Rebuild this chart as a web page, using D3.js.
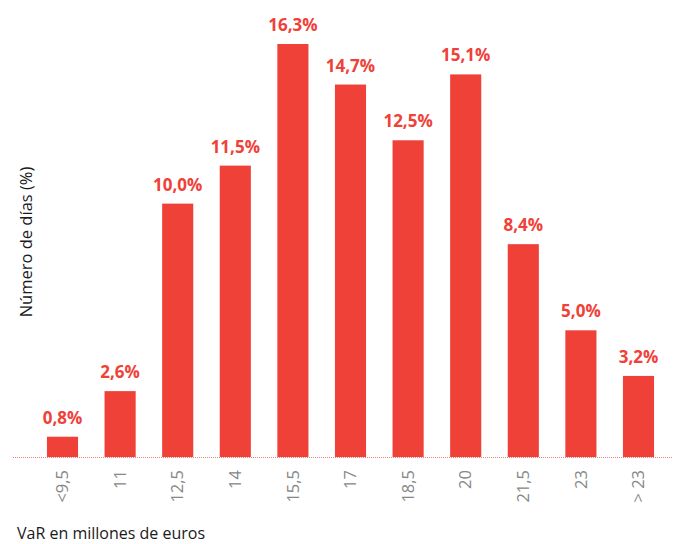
<!DOCTYPE html>
<html>
<head>
<meta charset="utf-8">
<script src="https://cdn.jsdelivr.net/npm/d3@7"></script>
<style>
  html, body { margin: 0; padding: 0; background: #fff; }
  svg { display: block; font-family: "Open Sans", "Noto Sans", sans-serif; }
</style>
</head>
<body>
<svg id="chart" width="680" height="544"></svg>
<script>
// VaR distribution: share of days by VaR bucket (millions of euros)
const categories = ["<9,5", "11", "12,5", "14", "15,5", "17", "18,5", "20", "21,5", "23", "> 23"];
const values = [0.8, 2.6, 10.0, 11.5, 16.3, 14.7, 12.5, 15.1, 8.4, 5.0, 3.2];
const valueLabels = ["0,8%", "2,6%", "10,0%", "11,5%", "16,3%", "14,7%", "12,5%", "15,1%", "8,4%", "5,0%", "3,2%"];
const yTitle = "Número de días (%)";
const xTitle = "VaR en millones de euros";

const red = "#ef4138";
const svg = d3.select("#chart");

const x = d3.scaleBand()
  .domain(categories)
  .range([33.7, 667.3])
  .paddingInner(0.46)
  .paddingOuter(0.23);

const baseY = 457;
const y = d3.scaleLinear().domain([0, 16.3]).range([baseY, 44]);

// bars
svg.append("g").selectAll("rect")
  .data(values)
  .join("rect")
  .attr("x", (d, i) => x(categories[i]))
  .attr("y", d => y(d))
  .attr("width", x.bandwidth())
  .attr("height", d => baseY - y(d))
  .attr("fill", red);

// value labels
svg.append("g").selectAll("text")
  .data(values)
  .join("text")
  .attr("x", (d, i) => x(categories[i]) + x.bandwidth() / 2)
  .attr("y", d => y(d) - 13)
  .attr("text-anchor", "middle")
  .attr("fill", red)
  .attr("font-size", 17)
  .attr("font-weight", 700)
  .text((d, i) => valueLabels[i]);

// dotted baseline
svg.append("line")
  .attr("x1", 13).attr("x2", 673)
  .attr("y1", baseY + 0.5).attr("y2", baseY + 0.5)
  .attr("stroke", "#f08078")
  .attr("stroke-width", 1)
  .attr("stroke-dasharray", "1,1");

// category axis, rotated labels
const xAxis = d3.axisBottom(x).tickSize(0).tickPadding(0);
const gx = svg.append("g").attr("transform", `translate(0,${baseY})`).call(xAxis);
gx.select(".domain").remove();
gx.selectAll(".tick text")
  .attr("transform", "translate(0,13) rotate(-90)")
  .attr("x", 0)
  .attr("y", 0)
  .attr("dy", "0.35em")
  .attr("text-anchor", "end")
  .attr("fill", "#878787")
  .attr("font-size", 16.5)
  .attr("font-family", "\"Open Sans\", \"Noto Sans\", sans-serif");

// axis titles
svg.append("text")
  .attr("transform", "translate(32,242) rotate(-90)")
  .attr("text-anchor", "middle")
  .attr("fill", "#1a1a1a")
  .attr("font-size", 16.5)
  .text(yTitle);

svg.append("text")
  .attr("x", 17)
  .attr("y", 539)
  .attr("fill", "#1a1a1a")
  .attr("font-size", 16)
  .text(xTitle);
</script>
</body>
</html>
